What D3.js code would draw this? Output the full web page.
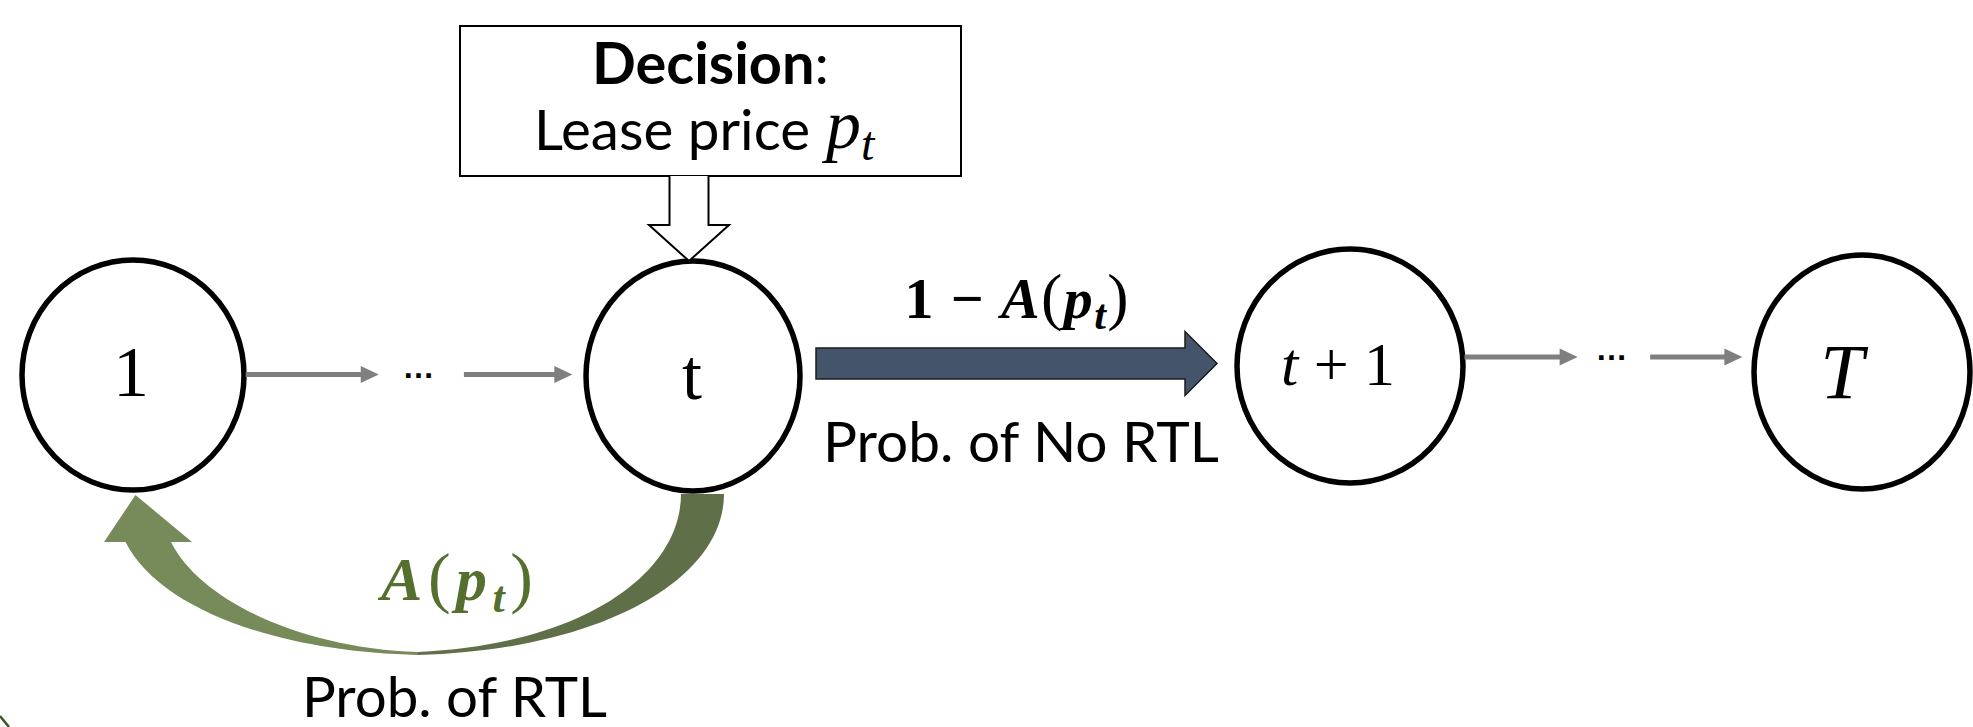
<!DOCTYPE html>
<html>
<head>
<meta charset="utf-8">
<script src="https://cdn.jsdelivr.net/npm/d3@7/dist/d3.min.js"></script>
<style>
  body { margin:0; background:#fff; }
  svg { display:block; }
  .sans { font-family: Lato, "Open Sans", sans-serif; }
  .math { font-family: "Liberation Serif", "DejaVu Serif", serif; }
</style>
</head>
<body>
<svg class="diagrama" width="1973" height="727"></svg>
<script>
/* periodos de la cadena y sus etiquetas (texto, estilo) */
var periodos = ["1", "t", "t+1", "T"];
var etiquetas = [
  [["1", "normal"]],
  [["t", "normal"]],
  [["t", "italic"], [" + 1", "normal"]],
  [["T", "italic"]]
];
/* tramos con flechas grises y puntos suspensivos */
var cadenas = [["1", "t"], ["t+1", "T"]];
var decision = ["Decision", ":", "Lease price", "p", "t"];
var transicionNo = {de: "t", a: "t+1", prob: ["1 \u2212 ", "A", "(", "p", "t", ")"], texto: "Prob. of No RTL"};
var transicionSi = {de: "t", a: "1", prob: ["A", "(", "p", "t", ")"], texto: "Prob. of RTL"};

/* escalas de posicion de cada nodo */
var x = d3.scaleOrdinal().domain(periodos).range([133, 693, 1350, 1862]);
var y = d3.scaleOrdinal().domain(periodos).range([375, 376, 366, 372]);
var rx = d3.scaleOrdinal().domain(periodos).range([111, 107, 113, 108]);
var ry = d3.scaleOrdinal().domain(periodos).range([115, 115, 117, 117]);
var yCadena = d3.scaleOrdinal().domain(["1", "t+1"]).range([374.5, 357]);

var svg = d3.select(".diagrama");
svg.append("rect").attr("width", "100%").attr("height", "100%").attr("fill", "#fff");

/* ---- flecha curva verde (retorno al periodo 1) ---- */
var xt = x("t"), bt = y("t") + ry("t");
var x1 = x("1"), b1 = y("1") + ry("1");
var fx = (xt + x1) / 2 + 5, fy = 654;

var oscuro = d3.path();
oscuro.moveTo(xt - 12, bt + 3);
oscuro.lineTo(xt + 31, bt + 3);
oscuro.bezierCurveTo(xt + 31, bt + 89, fx + 182, fy - 4, fx, fy + 1);
oscuro.lineTo(fx, fy - 2);
oscuro.bezierCurveTo(fx + 162, fy - 9, xt - 12, bt + 84, xt - 12, bt + 3);
oscuro.closePath();
svg.append("path").attr("d", oscuro.toString()).attr("fill", "#5f6f47");

var claro = d3.path();
claro.moveTo(fx, fy + 1);
claro.bezierCurveTo(fx - 138, fy - 2, x1 + 27, fy - 44, x1 - 7.5, b1 + 52);
claro.lineTo(x1 - 29, b1 + 52);
claro.lineTo(x1 + 2.5, b1 + 5);
claro.lineTo(x1 + 59, b1 + 52);
claro.lineTo(x1 + 38, b1 + 52);
claro.bezierCurveTo(x1 + 67, fy - 54, fx - 118, fy - 6, fx, fy - 2);
claro.closePath();
svg.append("path").attr("d", claro.toString()).attr("fill", "#778b5a");

/* ---- nodos ---- */
var nodos = svg.selectAll("g.nodo")
  .data(periodos)
  .enter()
  .append("g")
    .classed("nodo", true);
nodos.append("ellipse")
  .attr("cx", d => x(d))
  .attr("cy", d => y(d))
  .attr("rx", d => rx(d))
  .attr("ry", d => ry(d))
  .attr("fill", "#fff")
  .attr("stroke", "#000")
  .attr("stroke-width", 5.5);

/* tamaño de letra, desplazamiento x, desplazamiento de la linea base */
var estiloNodo = {"1": [72, -2, 21], "t": [72, -1, 23], "t+1": [62, -12, 19], "T": [78, -20, 26]};
nodos.append("text")
  .classed("math", true)
  .attr("text-anchor", "middle")
  .attr("x", d => x(d) + estiloNodo[d][1])
  .attr("y", d => y(d) + estiloNodo[d][2])
  .attr("font-size", d => estiloNodo[d][0])
  .each(function(d, i){
    var t = d3.select(this);
    etiquetas[i].forEach(p => {
      t.append("tspan").attr("font-style", p[1]).text(p[0]);
    });
  });

/* ---- flechas grises entre periodos ---- */
var tramos = [[0.005, 0.394], [0.643, 0.96]];
cadenas.forEach(c => {
  var s = d3.scaleLinear().domain([0, 1]).range([x(c[0]) + rx(c[0]), x(c[1]) - rx(c[1])]);
  var yy = yCadena(c[0]);
  tramos.forEach(tr => {
    var a = s(tr[0]), b = s(tr[1]);
    svg.append("line")
      .attr("x1", a).attr("y1", yy).attr("x2", b - 16).attr("y2", yy)
      .attr("stroke", "#7f7f7f").attr("stroke-width", 5);
    svg.append("path")
      .attr("d", "M" + (b - 18) + "," + (yy - 8.5) + "L" + b + "," + yy + "L" + (b - 18) + "," + (yy + 8.5) + "Z")
      .attr("fill", "#7f7f7f");
  });
  svg.append("text")
    .attr("x", s(0.51)).attr("y", yy + 3)
    .attr("text-anchor", "middle")
    .attr("font-family", "Liberation Sans, sans-serif")
    .attr("font-size", 32)
    .attr("font-weight", "bold")
    .attr("fill", "#000")
    .text("\u2026");
});

/* ---- flecha gruesa azul (no RTL) ---- */
var ax0 = x(transicionNo.de) + rx(transicionNo.de) + 16;
var ax1 = x(transicionNo.a) - rx(transicionNo.a) - 20;
var ay = 363.5;
svg.append("path")
  .attr("d", "M" + ax0 + "," + (ay - 15.5) + "L" + (ax1 - 32) + "," + (ay - 15.5) + "L" + (ax1 - 32) + "," + (ay - 32) +
             "L" + ax1 + "," + ay + "L" + (ax1 - 32) + "," + (ay + 32) + "L" + (ax1 - 32) + "," + (ay + 15.5) +
             "L" + ax0 + "," + (ay + 15.5) + "Z")
  .attr("fill", "#44546a")
  .attr("stroke", "#1b1b1b")
  .attr("stroke-width", 1.5);

var mx = (ax0 + ax1) / 2;
var etqNo = svg.append("text").classed("math", true)
  .attr("x", mx).attr("y", 318)
  .attr("text-anchor", "middle")
  .attr("font-size", 58)
  .attr("font-weight", "bold")
  .attr("textLength", 224)
  .attr("lengthAdjust", "spacing");
etqNo.append("tspan").text(transicionNo.prob[0]);
etqNo.append("tspan").attr("font-style", "italic").text(transicionNo.prob[1]);
etqNo.append("tspan").attr("font-weight", "normal").attr("font-size", 64).text(transicionNo.prob[2]);
etqNo.append("tspan").attr("font-style", "italic").text(transicionNo.prob[3]);
etqNo.append("tspan").attr("font-style", "italic").attr("font-size", 42).attr("dy", 11).text(transicionNo.prob[4]);
etqNo.append("tspan").attr("font-weight", "normal").attr("font-size", 64).attr("dy", -11).text(transicionNo.prob[5]);

svg.append("text").classed("sans", true)
  .attr("x", 823).attr("y", 462)
  .attr("font-size", 57)
  .attr("textLength", 396)
  .attr("lengthAdjust", "spacingAndGlyphs")
  .text(transicionNo.texto);

/* ---- etiqueta verde y texto de RTL ---- */
var etqSi = svg.append("text").classed("math", true)
  .attr("x", 381).attr("y", 600)
  .attr("fill", "#55702e")
  .attr("font-size", 62)
  .attr("font-weight", "bold")
  .attr("textLength", 152)
  .attr("lengthAdjust", "spacing");
etqSi.append("tspan").attr("font-style", "italic").text(transicionSi.prob[0]);
etqSi.append("tspan").attr("font-weight", "normal").attr("font-size", 68).text(transicionSi.prob[1]);
etqSi.append("tspan").attr("font-style", "italic").text(transicionSi.prob[2]);
etqSi.append("tspan").attr("font-style", "italic").attr("font-size", 44).attr("dy", 12).text(transicionSi.prob[3]);
etqSi.append("tspan").attr("font-weight", "normal").attr("font-size", 68).attr("dy", -12).text(transicionSi.prob[4]);

svg.append("text").classed("sans", true)
  .attr("x", 302).attr("y", 717)
  .attr("font-size", 57)
  .attr("textLength", 305)
  .attr("lengthAdjust", "spacingAndGlyphs")
  .text(transicionSi.texto);

/* ---- caja de decision y flecha hueca ---- */
svg.append("rect")
  .attr("x", 460).attr("y", 26).attr("width", 501).attr("height", 150)
  .attr("fill", "#fff").attr("stroke", "#000").attr("stroke-width", 2);

var tDec = svg.append("text").classed("sans", true)
  .attr("x", 592).attr("y", 84)
  .attr("font-size", 57)
  .attr("textLength", 237)
  .attr("lengthAdjust", "spacingAndGlyphs");
tDec.append("tspan").attr("font-weight", "bold").text(decision[0]);
tDec.append("tspan").text(decision[1]);

svg.append("text").classed("sans", true)
  .attr("x", 534).attr("y", 150)
  .attr("font-size", 57)
  .attr("textLength", 276)
  .attr("lengthAdjust", "spacingAndGlyphs")
  .text(decision[2]);
var tp = svg.append("text").classed("math", true)
  .attr("x", 826).attr("y", 148)
  .attr("font-size", 70);
tp.append("tspan").attr("font-style", "italic").text(decision[3]);
tp.append("tspan").attr("font-style", "italic").attr("font-size", 48).attr("dy", 12).text(decision[4]);

var hx = 689, hy0 = 176, hy1 = y("t") - ry("t");
svg.append("path")
  .attr("d", "M" + (hx - 19.5) + "," + hy0 + "L" + (hx - 19.5) + "," + (hy1 - 36) + "L" + (hx - 40) + "," + (hy1 - 36) +
             "L" + hx + "," + hy1 + "L" + (hx + 40) + "," + (hy1 - 36) + "L" + (hx + 19.5) + "," + (hy1 - 36) +
             "L" + (hx + 19.5) + "," + hy0)
  .attr("fill", "#fff")
  .attr("stroke", "#000")
  .attr("stroke-width", 2);

/* trazo verde cortado en la esquina */
svg.append("path").attr("d", "M0,716 L9,727").attr("stroke", "#3b5a22").attr("stroke-width", 2.5);
</script>
</body>
</html>
